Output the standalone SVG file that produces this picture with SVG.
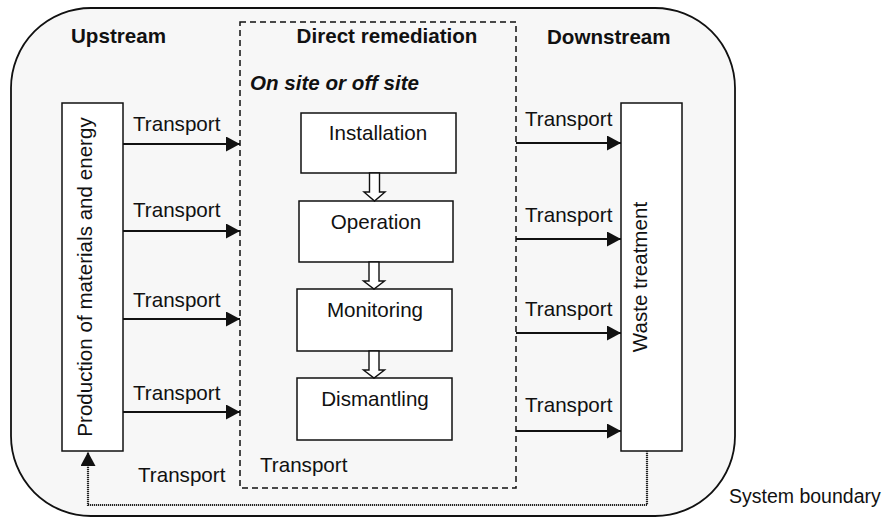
<svg xmlns="http://www.w3.org/2000/svg" width="895" height="518" viewBox="0 0 895 518">
<style>
text{font-family:"Liberation Sans",Arial,sans-serif;fill:#111;font-size:20.6px}
.b{font-weight:bold}
.bi{font-weight:bold;font-style:italic}
.m{text-anchor:middle}
.box{fill:#fff;stroke:#111;stroke-width:1.5}
.arr{stroke:#111;stroke-width:2.2;fill:none}
.hol{fill:#fff;stroke:#111;stroke-width:1.4}
</style>
<defs>
<marker id="ah" viewBox="0 0 14 15" refX="14" refY="7.5" markerWidth="14" markerHeight="15" markerUnits="userSpaceOnUse" orient="auto">
<path d="M0,0 L14,7.5 L0,15 Z" fill="#111"/>
</marker>
<marker id="ah2" viewBox="0 0 14 15" refX="14" refY="7.5" markerWidth="14" markerHeight="15" markerUnits="userSpaceOnUse" orient="auto">
<path d="M0,0 L14,7.5 L0,15 Z" fill="#111"/>
</marker>
</defs>
<g id="boundary">
<rect x="11" y="8" width="724" height="508" rx="80" ry="80" fill="#f7f7f7" stroke="#111" stroke-width="1.8"/>
<text x="729" y="503" style="font-size:19.5px">System boundary</text>
</g>
<g id="direct-remediation">
<rect x="240" y="22" width="276" height="466" fill="none" stroke="#111" stroke-width="1.5" stroke-dasharray="6,4"/>
<text class="b m" x="387" y="43">Direct remediation</text>
<text class="bi" x="250" y="90">On site or off site</text>
</g>
<text class="b" x="71" y="43">Upstream</text>
<text class="b" x="547" y="44">Downstream</text>
<g id="production">
<rect class="box" x="62" y="103" width="61" height="348"/>
<text class="m" transform="translate(92,277) rotate(-90)">Production of materials and energy</text>
</g>
<g id="waste">
<rect class="box" x="621" y="103" width="61" height="348"/>
<text class="m" transform="translate(647,277) rotate(-90)">Waste treatment</text>
</g>
<g id="installation">
<rect class="box" x="301" y="113" width="155" height="60"/>
<text class="m" x="378" y="140">Installation</text>
</g>
<g id="operation">
<rect class="box" x="299" y="201" width="154" height="61"/>
<text class="m" x="376" y="229">Operation</text>
</g>
<g id="monitoring">
<rect class="box" x="297" y="289" width="155" height="62"/>
<text class="m" x="375" y="317">Monitoring</text>
</g>
<g id="dismantling">
<rect class="box" x="297" y="378" width="155" height="62"/>
<text class="m" x="375" y="406">Dismantling</text>
</g>
<g id="connectors">
<path class="hol" d="M369.5,173 V192 H364 L374.5,201 L385,192 H379.5 V173 Z"/>
<path class="hol" d="M369,262 V281 H363.5 L374,289 L384.5,281 H379 V262 Z"/>
<path class="hol" d="M369,351 V370 H363.5 L374,378 L384.5,370 H379 V351 Z"/>
<line class="arr" x1="123" y1="144" x2="240" y2="144" marker-end="url(#ah)"/>
<line class="arr" x1="123" y1="231" x2="240" y2="231" marker-end="url(#ah)"/>
<line class="arr" x1="123" y1="319" x2="240" y2="319" marker-end="url(#ah)"/>
<line class="arr" x1="123" y1="412" x2="240" y2="412" marker-end="url(#ah)"/>
<line class="arr" x1="516" y1="143" x2="621" y2="143" marker-end="url(#ah)"/>
<line class="arr" x1="516" y1="239" x2="621" y2="239" marker-end="url(#ah)"/>
<line class="arr" x1="516" y1="333" x2="621" y2="333" marker-end="url(#ah)"/>
<line class="arr" x1="516" y1="431" x2="621" y2="431" marker-end="url(#ah)"/>
<path d="M647,451 V505 H88 V452" fill="none" stroke="#222" stroke-width="2.2" stroke-dasharray="1.2,0.8" marker-end="url(#ah2)"/>
<text x="133" y="131">Transport</text>
<text x="133" y="217">Transport</text>
<text x="133" y="307">Transport</text>
<text x="133" y="400">Transport</text>
<text x="525" y="126">Transport</text>
<text x="525" y="222">Transport</text>
<text x="525" y="316">Transport</text>
<text x="525" y="412">Transport</text>
<text x="138" y="482">Transport</text>
<text x="260" y="472">Transport</text>
</g>
</svg>
